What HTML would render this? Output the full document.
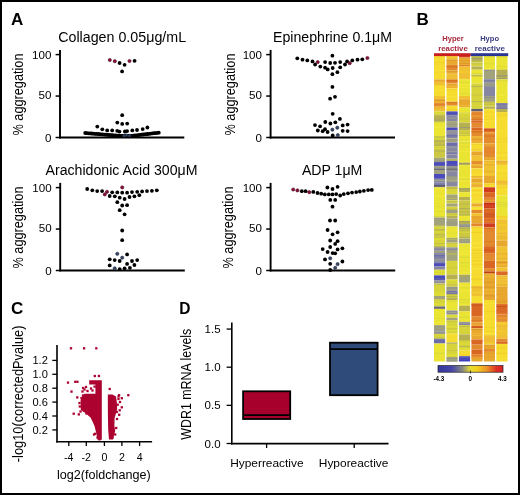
<!DOCTYPE html><html><head><meta charset="utf-8"><style>html,body{margin:0;padding:0;background:#fff}svg{display:block;filter:blur(0.35px)}</style></head><body><svg width="520" height="495" viewBox="0 0 520 495" font-family="Liberation Sans, sans-serif"><rect x="0" y="0" width="520" height="495" fill="#fff"/>
<line x1="60.0" y1="49.900000000000006" x2="60.0" y2="138.4" stroke="#000" stroke-width="1.9"/>
<line x1="59.1" y1="137.5" x2="184.3" y2="137.5" stroke="#000" stroke-width="1.8"/>
<line x1="55.6" y1="137.5" x2="60.0" y2="137.5" stroke="#000" stroke-width="1.5"/>
<text x="51.4" y="141.5" font-size="11.6" text-anchor="end" fill="#000">0</text>
<line x1="55.6" y1="96.05000000000001" x2="60.0" y2="96.05000000000001" stroke="#000" stroke-width="1.5"/>
<text x="51.4" y="98.65" font-size="11.6" text-anchor="end" fill="#000">50</text>
<line x1="55.6" y1="54.60000000000001" x2="60.0" y2="54.60000000000001" stroke="#000" stroke-width="1.5"/>
<text x="51.4" y="58.60000000000001" font-size="11.6" text-anchor="end" fill="#000">100</text>
<text x="58.2" y="42.0" font-size="14" textLength="127.9" lengthAdjust="spacingAndGlyphs" fill="#000">Collagen 0.05μg/mL</text>
<text x="23.2" y="94.5" font-size="14" text-anchor="middle" textLength="82" lengthAdjust="spacingAndGlyphs" transform="rotate(-90 23.2 94.5)" fill="#000">% aggregation</text>
<line x1="270.6" y1="49.900000000000006" x2="270.6" y2="138.4" stroke="#000" stroke-width="1.9"/>
<line x1="269.70000000000005" y1="137.5" x2="395" y2="137.5" stroke="#000" stroke-width="1.8"/>
<line x1="266.20000000000005" y1="137.5" x2="270.6" y2="137.5" stroke="#000" stroke-width="1.5"/>
<text x="262.0" y="141.5" font-size="11.6" text-anchor="end" fill="#000">0</text>
<line x1="266.20000000000005" y1="96.05000000000001" x2="270.6" y2="96.05000000000001" stroke="#000" stroke-width="1.5"/>
<text x="262.0" y="98.65" font-size="11.6" text-anchor="end" fill="#000">50</text>
<line x1="266.20000000000005" y1="54.60000000000001" x2="270.6" y2="54.60000000000001" stroke="#000" stroke-width="1.5"/>
<text x="262.0" y="58.60000000000001" font-size="11.6" text-anchor="end" fill="#000">100</text>
<text x="273" y="42.0" font-size="14" textLength="119" lengthAdjust="spacingAndGlyphs" fill="#000">Epinephrine 0.1μM</text>
<text x="234.9" y="94.5" font-size="14" text-anchor="middle" textLength="82" lengthAdjust="spacingAndGlyphs" transform="rotate(-90 234.9 94.5)" fill="#000">% aggregation</text>
<line x1="60.2" y1="182.9" x2="60.2" y2="271.4" stroke="#000" stroke-width="1.9"/>
<line x1="59.300000000000004" y1="270.5" x2="184.8" y2="270.5" stroke="#000" stroke-width="1.8"/>
<line x1="55.800000000000004" y1="270.5" x2="60.2" y2="270.5" stroke="#000" stroke-width="1.5"/>
<text x="51.6" y="274.5" font-size="11.6" text-anchor="end" fill="#000">0</text>
<line x1="55.800000000000004" y1="229.05" x2="60.2" y2="229.05" stroke="#000" stroke-width="1.5"/>
<text x="51.6" y="231.65" font-size="11.6" text-anchor="end" fill="#000">50</text>
<line x1="55.800000000000004" y1="187.60000000000002" x2="60.2" y2="187.60000000000002" stroke="#000" stroke-width="1.5"/>
<text x="51.6" y="191.60000000000002" font-size="11.6" text-anchor="end" fill="#000">100</text>
<text x="45.5" y="175.0" font-size="14" textLength="152.0" lengthAdjust="spacingAndGlyphs" fill="#000">Arachidonic Acid 300μM</text>
<text x="23.2" y="227.5" font-size="14" text-anchor="middle" textLength="82" lengthAdjust="spacingAndGlyphs" transform="rotate(-90 23.2 227.5)" fill="#000">% aggregation</text>
<line x1="270.6" y1="182.9" x2="270.6" y2="271.4" stroke="#000" stroke-width="1.9"/>
<line x1="269.70000000000005" y1="270.5" x2="395.2" y2="270.5" stroke="#000" stroke-width="1.8"/>
<line x1="266.20000000000005" y1="270.5" x2="270.6" y2="270.5" stroke="#000" stroke-width="1.5"/>
<text x="262.0" y="274.5" font-size="11.6" text-anchor="end" fill="#000">0</text>
<line x1="266.20000000000005" y1="229.05" x2="270.6" y2="229.05" stroke="#000" stroke-width="1.5"/>
<text x="262.0" y="231.65" font-size="11.6" text-anchor="end" fill="#000">50</text>
<line x1="266.20000000000005" y1="187.60000000000002" x2="270.6" y2="187.60000000000002" stroke="#000" stroke-width="1.5"/>
<text x="262.0" y="191.60000000000002" font-size="11.6" text-anchor="end" fill="#000">100</text>
<text x="301.9" y="175.0" font-size="14" textLength="60.5" lengthAdjust="spacingAndGlyphs" fill="#000">ADP 1μM</text>
<text x="233.4" y="227.5" font-size="14" text-anchor="middle" textLength="82" lengthAdjust="spacingAndGlyphs" transform="rotate(-90 233.4 227.5)" fill="#000">% aggregation</text>
<circle cx="109.8" cy="60.0" r="1.60" fill="#8c1040" stroke="#4a0820" stroke-width="0.6"/>
<circle cx="114.8" cy="61.2" r="1.60" fill="#8c1040" stroke="#4a0820" stroke-width="0.6"/>
<circle cx="119.6" cy="63.0" r="1.9" fill="#000"/>
<circle cx="124.6" cy="64.8" r="1.9" fill="#000"/>
<circle cx="129.5" cy="61.0" r="1.60" fill="#8c1040" stroke="#4a0820" stroke-width="0.6"/>
<circle cx="134.6" cy="60.8" r="1.9" fill="#000"/>
<circle cx="122.1" cy="71.4" r="1.9" fill="#000"/>
<circle cx="122.2" cy="115.2" r="1.9" fill="#000"/>
<circle cx="117.3" cy="122.6" r="1.9" fill="#000"/>
<circle cx="122.2" cy="123.9" r="1.9" fill="#000"/>
<circle cx="127.2" cy="123.6" r="1.9" fill="#000"/>
<circle cx="97.3" cy="126.6" r="1.9" fill="#000"/>
<circle cx="147.4" cy="127.5" r="1.9" fill="#000"/>
<circle cx="102.3" cy="129.3" r="1.9" fill="#000"/>
<circle cx="107.2" cy="130.4" r="1.9" fill="#000"/>
<circle cx="112.2" cy="130.4" r="1.9" fill="#000"/>
<circle cx="117.2" cy="130.8" r="1.9" fill="#000"/>
<circle cx="119.4" cy="131.6" r="1.9" fill="#000"/>
<circle cx="124.9" cy="131.5" r="1.9" fill="#000"/>
<circle cx="127.1" cy="131.1" r="1.9" fill="#000"/>
<circle cx="132.3" cy="130.4" r="1.9" fill="#000"/>
<circle cx="137.0" cy="130.0" r="1.9" fill="#000"/>
<circle cx="142.7" cy="129.1" r="1.9" fill="#000"/>
<circle cx="85.2" cy="133.0" r="1.9" fill="#000"/>
<circle cx="86.8" cy="133.1" r="1.9" fill="#000"/>
<circle cx="88.4" cy="133.3" r="1.9" fill="#000"/>
<circle cx="90.0" cy="133.4" r="1.9" fill="#000"/>
<circle cx="91.6" cy="133.5" r="1.9" fill="#000"/>
<circle cx="93.2" cy="133.7" r="1.9" fill="#000"/>
<circle cx="94.8" cy="133.8" r="1.9" fill="#000"/>
<circle cx="96.4" cy="133.9" r="1.9" fill="#000"/>
<circle cx="98.0" cy="134.0" r="1.9" fill="#000"/>
<circle cx="99.6" cy="134.2" r="1.9" fill="#000"/>
<circle cx="101.2" cy="134.3" r="1.9" fill="#000"/>
<circle cx="102.8" cy="134.4" r="1.9" fill="#000"/>
<circle cx="104.4" cy="134.6" r="1.9" fill="#000"/>
<circle cx="106.0" cy="134.7" r="1.9" fill="#000"/>
<circle cx="107.6" cy="134.8" r="1.9" fill="#000"/>
<circle cx="109.2" cy="135.0" r="1.9" fill="#000"/>
<circle cx="110.8" cy="135.1" r="1.9" fill="#000"/>
<circle cx="112.4" cy="135.2" r="1.9" fill="#000"/>
<circle cx="114.0" cy="135.3" r="1.9" fill="#000"/>
<circle cx="115.6" cy="135.5" r="1.9" fill="#000"/>
<circle cx="117.2" cy="135.6" r="1.9" fill="#000"/>
<circle cx="118.8" cy="135.7" r="1.9" fill="#000"/>
<circle cx="120.4" cy="135.9" r="1.9" fill="#000"/>
<circle cx="122.0" cy="136.0" r="1.9" fill="#000"/>
<circle cx="123.6" cy="136.0" r="1.9" fill="#000"/>
<circle cx="125.2" cy="136.0" r="1.9" fill="#000"/>
<circle cx="126.8" cy="136.0" r="1.9" fill="#000"/>
<circle cx="128.4" cy="136.0" r="1.9" fill="#000"/>
<circle cx="130.0" cy="136.0" r="1.9" fill="#000"/>
<circle cx="131.6" cy="135.8" r="1.9" fill="#000"/>
<circle cx="133.2" cy="135.6" r="1.9" fill="#000"/>
<circle cx="134.8" cy="135.4" r="1.9" fill="#000"/>
<circle cx="136.4" cy="135.3" r="1.9" fill="#000"/>
<circle cx="138.0" cy="135.1" r="1.9" fill="#000"/>
<circle cx="139.6" cy="134.9" r="1.9" fill="#000"/>
<circle cx="141.2" cy="134.7" r="1.9" fill="#000"/>
<circle cx="142.8" cy="134.5" r="1.9" fill="#000"/>
<circle cx="144.4" cy="134.3" r="1.9" fill="#000"/>
<circle cx="146.0" cy="134.2" r="1.9" fill="#000"/>
<circle cx="147.6" cy="134.0" r="1.9" fill="#000"/>
<circle cx="149.2" cy="133.8" r="1.9" fill="#000"/>
<circle cx="150.8" cy="133.6" r="1.9" fill="#000"/>
<circle cx="152.4" cy="133.4" r="1.9" fill="#000"/>
<circle cx="154.0" cy="133.2" r="1.9" fill="#000"/>
<circle cx="155.6" cy="133.1" r="1.9" fill="#000"/>
<circle cx="157.2" cy="132.9" r="1.9" fill="#000"/>
<circle cx="158.8" cy="132.7" r="1.9" fill="#000"/>
<circle cx="126.5" cy="135.3" r="1.40" fill="#3a4a68" stroke="#1a2238" stroke-width="0.6"/>
<circle cx="129.5" cy="135.6" r="1.40" fill="#3a4a68" stroke="#1a2238" stroke-width="0.6"/>
<circle cx="124.0" cy="135.8" r="1.40" fill="#3a4a68" stroke="#1a2238" stroke-width="0.6"/>
<circle cx="332.4" cy="55.7" r="1.9" fill="#000"/>
<circle cx="297.3" cy="58.3" r="1.9" fill="#000"/>
<circle cx="302.5" cy="59.7" r="1.9" fill="#000"/>
<circle cx="307.3" cy="60.4" r="1.9" fill="#000"/>
<circle cx="312.5" cy="61.4" r="1.9" fill="#000"/>
<circle cx="317.7" cy="62.1" r="1.60" fill="#8c1040" stroke="#4a0820" stroke-width="0.6"/>
<circle cx="315.1" cy="64.5" r="1.9" fill="#000"/>
<circle cx="320.3" cy="66.6" r="1.9" fill="#000"/>
<circle cx="325.1" cy="62.1" r="1.9" fill="#000"/>
<circle cx="330.2" cy="63.0" r="1.9" fill="#000"/>
<circle cx="335.0" cy="62.8" r="1.9" fill="#000"/>
<circle cx="340.2" cy="62.1" r="1.9" fill="#000"/>
<circle cx="347.1" cy="61.4" r="1.9" fill="#000"/>
<circle cx="349.7" cy="63.2" r="1.60" fill="#8c1040" stroke="#4a0820" stroke-width="0.6"/>
<circle cx="345.0" cy="64.5" r="1.9" fill="#000"/>
<circle cx="352.3" cy="60.4" r="1.9" fill="#000"/>
<circle cx="357.5" cy="59.7" r="1.9" fill="#000"/>
<circle cx="362.3" cy="59.3" r="1.9" fill="#000"/>
<circle cx="367.4" cy="58.0" r="1.60" fill="#8c1040" stroke="#4a0820" stroke-width="0.6"/>
<circle cx="325.1" cy="67.7" r="1.9" fill="#000"/>
<circle cx="327.7" cy="69.4" r="1.9" fill="#000"/>
<circle cx="332.7" cy="68.0" r="1.9" fill="#000"/>
<circle cx="340.2" cy="67.3" r="1.9" fill="#000"/>
<circle cx="332.4" cy="74.2" r="1.9" fill="#000"/>
<circle cx="337.4" cy="72.2" r="1.9" fill="#000"/>
<circle cx="332.4" cy="86.9" r="1.9" fill="#000"/>
<circle cx="330.1" cy="98.7" r="1.9" fill="#000"/>
<circle cx="335.0" cy="96.8" r="1.9" fill="#000"/>
<circle cx="332.7" cy="113.8" r="1.9" fill="#000"/>
<circle cx="339.9" cy="118.9" r="1.9" fill="#000"/>
<circle cx="325.3" cy="122.0" r="1.9" fill="#000"/>
<circle cx="330.4" cy="123.5" r="1.9" fill="#000"/>
<circle cx="335.3" cy="122.3" r="1.9" fill="#000"/>
<circle cx="315.0" cy="125.1" r="1.9" fill="#000"/>
<circle cx="320.1" cy="126.3" r="1.9" fill="#000"/>
<circle cx="342.7" cy="125.4" r="1.9" fill="#000"/>
<circle cx="347.6" cy="124.6" r="1.9" fill="#000"/>
<circle cx="325.0" cy="129.2" r="1.9" fill="#000"/>
<circle cx="332.4" cy="129.7" r="1.60" fill="#3a4a68" stroke="#1a2238" stroke-width="0.6"/>
<circle cx="337.3" cy="127.7" r="1.60" fill="#3a4a68" stroke="#1a2238" stroke-width="0.6"/>
<circle cx="317.8" cy="130.5" r="1.9" fill="#000"/>
<circle cx="322.7" cy="131.2" r="1.9" fill="#000"/>
<circle cx="327.6" cy="132.0" r="1.9" fill="#000"/>
<circle cx="342.7" cy="130.8" r="1.9" fill="#000"/>
<circle cx="347.6" cy="131.1" r="1.9" fill="#000"/>
<circle cx="332.7" cy="135.4" r="1.9" fill="#000"/>
<circle cx="337.8" cy="135.1" r="1.60" fill="#3a4a68" stroke="#1a2238" stroke-width="0.6"/>
<circle cx="87.2" cy="189.0" r="1.9" fill="#000"/>
<circle cx="92.3" cy="190.3" r="1.9" fill="#000"/>
<circle cx="97.2" cy="191.1" r="1.9" fill="#000"/>
<circle cx="102.1" cy="191.1" r="1.9" fill="#000"/>
<circle cx="107.0" cy="191.8" r="1.60" fill="#8c1040" stroke="#4a0820" stroke-width="0.6"/>
<circle cx="104.8" cy="194.4" r="1.60" fill="#8c1040" stroke="#4a0820" stroke-width="0.6"/>
<circle cx="112.2" cy="192.3" r="1.9" fill="#000"/>
<circle cx="117.3" cy="192.4" r="1.9" fill="#000"/>
<circle cx="122.2" cy="192.7" r="1.9" fill="#000"/>
<circle cx="122.2" cy="187.4" r="1.60" fill="#8c1040" stroke="#4a0820" stroke-width="0.6"/>
<circle cx="127.1" cy="192.7" r="1.9" fill="#000"/>
<circle cx="132.0" cy="192.1" r="1.9" fill="#000"/>
<circle cx="137.2" cy="191.8" r="1.9" fill="#000"/>
<circle cx="142.1" cy="191.4" r="1.9" fill="#000"/>
<circle cx="147.0" cy="191.1" r="1.9" fill="#000"/>
<circle cx="151.9" cy="190.8" r="1.9" fill="#000"/>
<circle cx="156.8" cy="190.3" r="1.9" fill="#000"/>
<circle cx="109.7" cy="196.0" r="1.9" fill="#000"/>
<circle cx="114.8" cy="196.3" r="1.9" fill="#000"/>
<circle cx="119.7" cy="197.7" r="1.9" fill="#000"/>
<circle cx="124.6" cy="199.0" r="1.9" fill="#000"/>
<circle cx="129.5" cy="197.0" r="1.9" fill="#000"/>
<circle cx="134.4" cy="196.3" r="1.9" fill="#000"/>
<circle cx="139.3" cy="195.2" r="1.9" fill="#000"/>
<circle cx="117.3" cy="202.2" r="1.9" fill="#000"/>
<circle cx="122.2" cy="205.5" r="1.9" fill="#000"/>
<circle cx="127.1" cy="205.2" r="1.9" fill="#000"/>
<circle cx="119.7" cy="210.2" r="1.9" fill="#000"/>
<circle cx="124.6" cy="214.3" r="1.9" fill="#000"/>
<circle cx="122.2" cy="230.5" r="1.9" fill="#000"/>
<circle cx="122.2" cy="240.2" r="1.9" fill="#000"/>
<circle cx="117.3" cy="253.8" r="1.60" fill="#3a4a68" stroke="#1a2238" stroke-width="0.6"/>
<circle cx="122.2" cy="257.7" r="1.60" fill="#3a4a68" stroke="#1a2238" stroke-width="0.6"/>
<circle cx="127.1" cy="254.4" r="1.9" fill="#000"/>
<circle cx="109.7" cy="259.3" r="1.9" fill="#000"/>
<circle cx="114.7" cy="260.1" r="1.9" fill="#000"/>
<circle cx="119.7" cy="261.0" r="1.9" fill="#000"/>
<circle cx="132.0" cy="261.0" r="1.9" fill="#000"/>
<circle cx="137.2" cy="260.1" r="1.9" fill="#000"/>
<circle cx="109.7" cy="265.4" r="1.9" fill="#000"/>
<circle cx="127.1" cy="263.9" r="1.9" fill="#000"/>
<circle cx="134.4" cy="265.0" r="1.9" fill="#000"/>
<circle cx="114.7" cy="268.3" r="1.60" fill="#3a4a68" stroke="#1a2238" stroke-width="0.6"/>
<circle cx="119.7" cy="269.1" r="1.9" fill="#000"/>
<circle cx="124.6" cy="268.3" r="1.9" fill="#000"/>
<circle cx="129.9" cy="267.8" r="1.9" fill="#000"/>
<circle cx="293.2" cy="189.5" r="1.60" fill="#8c1040" stroke="#4a0820" stroke-width="0.6"/>
<circle cx="297.4" cy="190.4" r="1.60" fill="#8c1040" stroke="#4a0820" stroke-width="0.6"/>
<circle cx="301.8" cy="191.2" r="1.9" fill="#000"/>
<circle cx="305.6" cy="191.2" r="1.9" fill="#000"/>
<circle cx="309.3" cy="192.2" r="1.60" fill="#8c1040" stroke="#4a0820" stroke-width="0.6"/>
<circle cx="313.3" cy="191.9" r="1.9" fill="#000"/>
<circle cx="317.5" cy="193.0" r="1.9" fill="#000"/>
<circle cx="321.2" cy="193.7" r="1.9" fill="#000"/>
<circle cx="324.8" cy="194.4" r="1.9" fill="#000"/>
<circle cx="328.8" cy="194.4" r="1.9" fill="#000"/>
<circle cx="332.5" cy="194.4" r="1.9" fill="#000"/>
<circle cx="336.2" cy="194.1" r="1.9" fill="#000"/>
<circle cx="340.2" cy="195.5" r="1.9" fill="#000"/>
<circle cx="343.8" cy="194.1" r="1.9" fill="#000"/>
<circle cx="348.0" cy="193.3" r="1.9" fill="#000"/>
<circle cx="352.0" cy="192.6" r="1.9" fill="#000"/>
<circle cx="356.2" cy="192.1" r="1.9" fill="#000"/>
<circle cx="359.9" cy="191.5" r="1.9" fill="#000"/>
<circle cx="363.9" cy="190.8" r="1.9" fill="#000"/>
<circle cx="368.1" cy="190.1" r="1.9" fill="#000"/>
<circle cx="371.8" cy="189.9" r="1.9" fill="#000"/>
<circle cx="327.4" cy="187.5" r="1.9" fill="#000"/>
<circle cx="332.5" cy="189.0" r="1.9" fill="#000"/>
<circle cx="337.6" cy="186.8" r="1.9" fill="#000"/>
<circle cx="330.3" cy="199.9" r="1.9" fill="#000"/>
<circle cx="335.2" cy="199.9" r="1.9" fill="#000"/>
<circle cx="332.5" cy="206.7" r="1.9" fill="#000"/>
<circle cx="330.0" cy="220.5" r="1.9" fill="#000"/>
<circle cx="335.2" cy="220.5" r="1.9" fill="#000"/>
<circle cx="327.6" cy="230.0" r="1.9" fill="#000"/>
<circle cx="337.6" cy="232.3" r="1.9" fill="#000"/>
<circle cx="332.6" cy="234.3" r="1.9" fill="#000"/>
<circle cx="330.2" cy="240.5" r="1.9" fill="#000"/>
<circle cx="337.6" cy="241.2" r="1.9" fill="#000"/>
<circle cx="335.2" cy="243.9" r="1.9" fill="#000"/>
<circle cx="330.2" cy="247.0" r="1.9" fill="#000"/>
<circle cx="322.7" cy="249.1" r="1.9" fill="#000"/>
<circle cx="337.6" cy="249.4" r="1.9" fill="#000"/>
<circle cx="342.4" cy="248.3" r="1.9" fill="#000"/>
<circle cx="327.6" cy="252.0" r="1.9" fill="#000"/>
<circle cx="332.6" cy="253.1" r="1.9" fill="#000"/>
<circle cx="335.2" cy="253.3" r="1.9" fill="#000"/>
<circle cx="325.0" cy="259.4" r="1.9" fill="#000"/>
<circle cx="330.2" cy="258.3" r="1.60" fill="#3a4a68" stroke="#1a2238" stroke-width="0.6"/>
<circle cx="330.2" cy="263.8" r="1.9" fill="#000"/>
<circle cx="337.6" cy="264.1" r="1.60" fill="#3a4a68" stroke="#1a2238" stroke-width="0.6"/>
<circle cx="342.4" cy="261.5" r="1.9" fill="#000"/>
<circle cx="335.2" cy="267.8" r="1.60" fill="#3a4a68" stroke="#1a2238" stroke-width="0.6"/>
<circle cx="330.2" cy="270.0" r="1.9" fill="#000"/>
<rect x="1" y="1" width="518" height="493" fill="none" stroke="#000" stroke-width="2"/>
<text x="11" y="25" font-size="17" font-weight="bold" fill="#000">A</text>
<text x="416.5" y="25" font-size="17" font-weight="bold" fill="#000">B</text>
<text x="11" y="314.2" font-size="17" font-weight="bold" fill="#000">C</text>
<text x="179.3" y="314.2" font-size="17" font-weight="bold" textLength="11.2" lengthAdjust="spacingAndGlyphs" fill="#000">D</text>
<rect x="434.00" y="56.00" width="11.10" height="23.40" fill="#f6dc2e"/>
<rect x="434.00" y="56.54" width="11.10" height="1.50" fill="#f4d634"/>
<rect x="434.00" y="62.04" width="11.10" height="1.00" fill="#f2d02c"/>
<rect x="434.00" y="64.04" width="11.10" height="0.80" fill="#f4d634"/>
<rect x="434.00" y="69.74" width="11.10" height="0.80" fill="#f8e43a"/>
<rect x="434.00" y="71.34" width="11.10" height="1.50" fill="#f4d634"/>
<rect x="434.00" y="79.40" width="11.10" height="2.50" fill="#e8a82e"/>
<rect x="434.00" y="81.90" width="11.10" height="3.20" fill="#f0c232"/>
<rect x="434.00" y="85.10" width="11.10" height="10.90" fill="#f6dc2e"/>
<rect x="434.00" y="85.14" width="11.10" height="0.80" fill="#f2d02c"/>
<rect x="434.00" y="89.54" width="11.10" height="1.00" fill="#f8e43a"/>
<rect x="434.00" y="96.00" width="11.10" height="3.20" fill="#f0c232"/>
<rect x="434.00" y="99.20" width="11.10" height="4.10" fill="#e8a82e"/>
<rect x="434.00" y="99.60" width="11.10" height="1.20" fill="#e09a2a"/>
<rect x="434.00" y="101.60" width="11.10" height="1.00" fill="#f0b836"/>
<rect x="434.00" y="103.30" width="11.10" height="3.20" fill="#e48a2e"/>
<rect x="434.00" y="103.37" width="11.10" height="1.50" fill="#e48030"/>
<rect x="434.00" y="105.87" width="11.10" height="0.63" fill="#e48030"/>
<rect x="434.00" y="106.50" width="11.10" height="4.90" fill="#f0c232"/>
<rect x="434.00" y="107.00" width="11.10" height="1.50" fill="#e8b430"/>
<rect x="434.00" y="109.50" width="11.10" height="0.80" fill="#f0ba3a"/>
<rect x="434.00" y="111.40" width="11.10" height="3.20" fill="#d6d43a"/>
<rect x="434.00" y="112.60" width="11.10" height="0.80" fill="#e2e034"/>
<rect x="434.00" y="114.60" width="11.10" height="7.30" fill="#b6b052"/>
<rect x="434.00" y="114.65" width="11.10" height="1.00" fill="#cac644"/>
<rect x="434.00" y="119.65" width="11.10" height="0.80" fill="#a4a264"/>
<rect x="434.00" y="121.90" width="11.10" height="14.10" fill="#eae432"/>
<rect x="434.00" y="121.92" width="11.10" height="1.20" fill="#dedc3a"/>
<rect x="434.00" y="126.62" width="11.10" height="1.50" fill="#f2e83a"/>
<rect x="434.00" y="131.62" width="11.10" height="1.00" fill="#eee236"/>
<rect x="434.00" y="136.00" width="11.10" height="4.00" fill="#d6d43a"/>
<rect x="434.00" y="136.51" width="11.10" height="0.80" fill="#bcb852"/>
<rect x="434.00" y="140.00" width="11.10" height="17.80" fill="#ccc844"/>
<rect x="434.00" y="140.31" width="11.10" height="1.50" fill="#b2ae56"/>
<rect x="434.00" y="142.61" width="11.10" height="1.00" fill="#bcb84e"/>
<rect x="434.00" y="144.41" width="11.10" height="1.20" fill="#b2ae56"/>
<rect x="434.00" y="146.41" width="11.10" height="0.80" fill="#dedc36"/>
<rect x="434.00" y="148.21" width="11.10" height="0.80" fill="#dedc36"/>
<rect x="434.00" y="150.51" width="11.10" height="1.00" fill="#b2ae56"/>
<rect x="434.00" y="157.80" width="11.10" height="4.10" fill="#a2a27c"/>
<rect x="434.00" y="160.89" width="11.10" height="0.80" fill="#9a9a88"/>
<rect x="434.00" y="161.90" width="11.10" height="4.00" fill="#4a4abc"/>
<rect x="434.00" y="162.28" width="11.10" height="0.80" fill="#6060ac"/>
<rect x="434.00" y="165.90" width="11.10" height="2.40" fill="#a2a27c"/>
<rect x="434.00" y="166.85" width="11.10" height="1.20" fill="#9a9a88"/>
<rect x="434.00" y="168.30" width="11.10" height="1.70" fill="#6c6a72"/>
<rect x="434.00" y="170.00" width="11.10" height="4.00" fill="#a2a27c"/>
<rect x="434.00" y="174.00" width="11.10" height="4.80" fill="#4a4abc"/>
<rect x="434.00" y="178.80" width="11.10" height="3.70" fill="#8686a2"/>
<rect x="434.00" y="179.86" width="11.10" height="1.20" fill="#a4a486"/>
<rect x="434.00" y="182.50" width="11.10" height="2.40" fill="#6c6caa"/>
<rect x="434.00" y="183.03" width="11.10" height="0.80" fill="#8a8a9c"/>
<rect x="434.00" y="184.90" width="11.10" height="2.40" fill="#6c6a72"/>
<rect x="434.00" y="185.27" width="11.10" height="0.80" fill="#5c5a70"/>
<rect x="434.00" y="187.30" width="11.10" height="28.70" fill="#eae432"/>
<rect x="434.00" y="187.90" width="11.10" height="1.50" fill="#f2e83a"/>
<rect x="434.00" y="190.90" width="11.10" height="1.20" fill="#eee236"/>
<rect x="434.00" y="195.60" width="11.10" height="1.50" fill="#f2e83a"/>
<rect x="434.00" y="203.60" width="11.10" height="1.00" fill="#eee236"/>
<rect x="434.00" y="206.10" width="11.10" height="1.00" fill="#dedc3a"/>
<rect x="434.00" y="210.90" width="11.10" height="1.00" fill="#dedc3a"/>
<rect x="434.00" y="216.00" width="11.10" height="1.60" fill="#d6d43a"/>
<rect x="434.00" y="217.60" width="11.10" height="8.90" fill="#a2a27c"/>
<rect x="434.00" y="217.98" width="11.10" height="0.80" fill="#9a9a88"/>
<rect x="434.00" y="225.08" width="11.10" height="1.42" fill="#bcb85a"/>
<rect x="434.00" y="226.50" width="11.10" height="20.20" fill="#d6d43a"/>
<rect x="434.00" y="229.04" width="11.10" height="1.50" fill="#bcb852"/>
<rect x="434.00" y="233.84" width="11.10" height="1.50" fill="#bcb852"/>
<rect x="434.00" y="236.14" width="11.10" height="1.50" fill="#c8c448"/>
<rect x="434.00" y="238.64" width="11.10" height="1.00" fill="#e2e034"/>
<rect x="434.00" y="243.14" width="11.10" height="0.80" fill="#bcb852"/>
<rect x="434.00" y="245.94" width="11.10" height="0.76" fill="#c8c448"/>
<rect x="434.00" y="246.70" width="11.10" height="4.10" fill="#8686a2"/>
<rect x="434.00" y="247.15" width="11.10" height="1.20" fill="#a4a486"/>
<rect x="434.00" y="250.80" width="11.10" height="2.40" fill="#a2a27c"/>
<rect x="434.00" y="253.20" width="11.10" height="2.80" fill="#6c6caa"/>
<rect x="434.00" y="253.84" width="11.10" height="1.20" fill="#8a8a9c"/>
<rect x="434.00" y="256.00" width="11.10" height="6.50" fill="#8686a2"/>
<rect x="434.00" y="256.42" width="11.10" height="0.80" fill="#7272aa"/>
<rect x="434.00" y="259.22" width="11.10" height="1.20" fill="#9a9a9c"/>
<rect x="434.00" y="261.42" width="11.10" height="0.80" fill="#9a9a9c"/>
<rect x="434.00" y="262.50" width="11.10" height="4.00" fill="#4a4abc"/>
<rect x="434.00" y="263.14" width="11.10" height="1.00" fill="#6060ac"/>
<rect x="434.00" y="266.50" width="11.10" height="3.20" fill="#8686a2"/>
<rect x="434.00" y="269.70" width="11.10" height="5.70" fill="#d6d43a"/>
<rect x="434.00" y="270.61" width="11.10" height="1.50" fill="#e2e034"/>
<rect x="434.00" y="273.11" width="11.10" height="1.20" fill="#e2e034"/>
<rect x="434.00" y="275.40" width="11.10" height="4.90" fill="#4a4abc"/>
<rect x="434.00" y="278.27" width="11.10" height="1.50" fill="#6060ac"/>
<rect x="434.00" y="280.30" width="11.10" height="3.20" fill="#8686a2"/>
<rect x="434.00" y="280.90" width="11.10" height="1.50" fill="#9a9a9c"/>
<rect x="434.00" y="283.50" width="11.10" height="12.50" fill="#d6d43a"/>
<rect x="434.00" y="284.15" width="11.10" height="0.80" fill="#bcb852"/>
<rect x="434.00" y="292.25" width="11.10" height="1.20" fill="#e2e034"/>
<rect x="434.00" y="294.45" width="11.10" height="1.20" fill="#e2e034"/>
<rect x="434.00" y="296.00" width="11.10" height="3.20" fill="#a2a27c"/>
<rect x="434.00" y="299.20" width="11.10" height="7.30" fill="#d6d43a"/>
<rect x="434.00" y="299.36" width="11.10" height="0.80" fill="#c8c448"/>
<rect x="434.00" y="303.46" width="11.10" height="1.20" fill="#e2e034"/>
<rect x="434.00" y="306.50" width="11.10" height="2.40" fill="#6c6a72"/>
<rect x="434.00" y="308.90" width="11.10" height="16.20" fill="#eae432"/>
<rect x="434.00" y="317.93" width="11.10" height="1.00" fill="#dedc3a"/>
<rect x="434.00" y="321.93" width="11.10" height="0.80" fill="#f2e83a"/>
<rect x="434.00" y="323.73" width="11.10" height="0.80" fill="#f2e83a"/>
<rect x="434.00" y="325.10" width="11.10" height="6.50" fill="#a2a27c"/>
<rect x="434.00" y="326.10" width="11.10" height="1.50" fill="#9a9a88"/>
<rect x="434.00" y="328.60" width="11.10" height="1.00" fill="#9a9a88"/>
<rect x="434.00" y="330.40" width="11.10" height="0.80" fill="#9a9a88"/>
<rect x="434.00" y="331.60" width="11.10" height="2.40" fill="#8686a2"/>
<rect x="434.00" y="332.69" width="11.10" height="1.20" fill="#a4a486"/>
<rect x="434.00" y="334.00" width="11.10" height="4.80" fill="#d6d43a"/>
<rect x="434.00" y="337.60" width="11.10" height="0.80" fill="#bcb852"/>
<rect x="434.00" y="338.80" width="11.10" height="4.70" fill="#6c6caa"/>
<rect x="434.00" y="338.98" width="11.10" height="1.00" fill="#7c7ca6"/>
<rect x="434.00" y="343.50" width="11.10" height="18.00" fill="#eae432"/>
<rect x="434.00" y="349.50" width="11.10" height="1.50" fill="#eee236"/>
<rect x="434.00" y="352.50" width="11.10" height="1.50" fill="#dedc3a"/>
<rect x="434.00" y="356.60" width="11.10" height="1.50" fill="#eee236"/>
<rect x="446.48" y="56.00" width="11.10" height="3.20" fill="#f0c232"/>
<rect x="446.48" y="56.11" width="11.10" height="0.80" fill="#f4d030"/>
<rect x="446.48" y="59.20" width="11.10" height="5.70" fill="#e8a82e"/>
<rect x="446.48" y="59.88" width="11.10" height="1.00" fill="#e09a2a"/>
<rect x="446.48" y="64.90" width="11.10" height="5.60" fill="#e48a2e"/>
<rect x="446.48" y="65.88" width="11.10" height="1.50" fill="#d87424"/>
<rect x="446.48" y="70.50" width="11.10" height="3.30" fill="#e8a82e"/>
<rect x="446.48" y="70.75" width="11.10" height="1.00" fill="#e09a2a"/>
<rect x="446.48" y="73.80" width="11.10" height="5.60" fill="#f0c232"/>
<rect x="446.48" y="75.96" width="11.10" height="1.00" fill="#f0ba3a"/>
<rect x="446.48" y="78.46" width="11.10" height="0.94" fill="#e8b430"/>
<rect x="446.48" y="79.40" width="11.10" height="4.10" fill="#e48a2e"/>
<rect x="446.48" y="80.04" width="11.10" height="1.50" fill="#d87424"/>
<rect x="446.48" y="83.50" width="11.10" height="4.80" fill="#e8a82e"/>
<rect x="446.48" y="85.94" width="11.10" height="1.50" fill="#f0b836"/>
<rect x="446.48" y="88.30" width="11.10" height="13.40" fill="#f6dc2e"/>
<rect x="446.48" y="89.08" width="11.10" height="0.80" fill="#f2d02c"/>
<rect x="446.48" y="96.18" width="11.10" height="0.80" fill="#f8e43a"/>
<rect x="446.48" y="101.70" width="11.10" height="4.00" fill="#e48a2e"/>
<rect x="446.48" y="102.35" width="11.10" height="0.80" fill="#d87424"/>
<rect x="446.48" y="105.70" width="11.10" height="5.70" fill="#f6dc2e"/>
<rect x="446.48" y="109.04" width="11.10" height="1.20" fill="#f2d02c"/>
<rect x="446.48" y="111.40" width="11.10" height="4.00" fill="#4a4abc"/>
<rect x="446.48" y="112.20" width="11.10" height="1.20" fill="#5656b4"/>
<rect x="446.48" y="114.20" width="11.10" height="1.00" fill="#6060ac"/>
<rect x="446.48" y="115.40" width="11.10" height="5.70" fill="#8686a2"/>
<rect x="446.48" y="117.46" width="11.10" height="1.20" fill="#9a9a9c"/>
<rect x="446.48" y="121.10" width="11.10" height="6.40" fill="#a2a27c"/>
<rect x="446.48" y="124.16" width="11.10" height="0.80" fill="#9a9a88"/>
<rect x="446.48" y="127.50" width="11.10" height="2.50" fill="#4a4abc"/>
<rect x="446.48" y="130.00" width="11.10" height="8.40" fill="#8686a2"/>
<rect x="446.48" y="130.06" width="11.10" height="1.50" fill="#9a9a9c"/>
<rect x="446.48" y="132.36" width="11.10" height="1.20" fill="#9a9a9c"/>
<rect x="446.48" y="135.06" width="11.10" height="1.50" fill="#7272aa"/>
<rect x="446.48" y="138.40" width="11.10" height="4.10" fill="#a2a27c"/>
<rect x="446.48" y="139.12" width="11.10" height="1.50" fill="#9a9a88"/>
<rect x="446.48" y="142.50" width="11.10" height="4.00" fill="#6c6caa"/>
<rect x="446.48" y="145.78" width="11.10" height="0.72" fill="#8a8a9c"/>
<rect x="446.48" y="146.50" width="11.10" height="8.10" fill="#8686a2"/>
<rect x="446.48" y="147.26" width="11.10" height="1.00" fill="#9a9a9c"/>
<rect x="446.48" y="150.86" width="11.10" height="1.20" fill="#9a9a9c"/>
<rect x="446.48" y="152.86" width="11.10" height="0.80" fill="#7272aa"/>
<rect x="446.48" y="154.60" width="11.10" height="4.00" fill="#8686a2"/>
<rect x="446.48" y="158.60" width="11.10" height="2.40" fill="#a2a27c"/>
<rect x="446.48" y="159.18" width="11.10" height="1.20" fill="#bcb85a"/>
<rect x="446.48" y="161.00" width="11.10" height="5.00" fill="#4a4abc"/>
<rect x="446.48" y="164.69" width="11.10" height="1.00" fill="#6060ac"/>
<rect x="446.48" y="166.00" width="11.10" height="2.30" fill="#8686a2"/>
<rect x="446.48" y="166.47" width="11.10" height="1.00" fill="#a4a486"/>
<rect x="446.48" y="168.30" width="11.10" height="1.70" fill="#6c6a72"/>
<rect x="446.48" y="168.65" width="11.10" height="1.00" fill="#7a7868"/>
<rect x="446.48" y="170.00" width="11.10" height="6.00" fill="#8686a2"/>
<rect x="446.48" y="170.55" width="11.10" height="1.20" fill="#9a9a9c"/>
<rect x="446.48" y="176.00" width="11.10" height="4.90" fill="#a2a27c"/>
<rect x="446.48" y="176.36" width="11.10" height="0.80" fill="#8e8e96"/>
<rect x="446.48" y="177.96" width="11.10" height="1.20" fill="#9a9a88"/>
<rect x="446.48" y="180.90" width="11.10" height="5.60" fill="#8686a2"/>
<rect x="446.48" y="181.24" width="11.10" height="1.00" fill="#a4a486"/>
<rect x="446.48" y="186.50" width="11.10" height="2.50" fill="#b6b052"/>
<rect x="446.48" y="187.35" width="11.10" height="1.20" fill="#cac644"/>
<rect x="446.48" y="189.00" width="11.10" height="5.60" fill="#d6d43a"/>
<rect x="446.48" y="191.88" width="11.10" height="0.80" fill="#e2e034"/>
<rect x="446.48" y="194.60" width="11.10" height="5.70" fill="#a2a27c"/>
<rect x="446.48" y="197.76" width="11.10" height="1.00" fill="#bcb85a"/>
<rect x="446.48" y="200.30" width="11.10" height="3.20" fill="#d6d43a"/>
<rect x="446.48" y="201.27" width="11.10" height="1.00" fill="#bcb852"/>
<rect x="446.48" y="203.50" width="11.10" height="3.20" fill="#a2a27c"/>
<rect x="446.48" y="206.70" width="11.10" height="3.30" fill="#d6d43a"/>
<rect x="446.48" y="208.78" width="11.10" height="1.20" fill="#bcb852"/>
<rect x="446.48" y="210.00" width="11.10" height="3.20" fill="#a2a27c"/>
<rect x="446.48" y="211.08" width="11.10" height="0.80" fill="#9a9a88"/>
<rect x="446.48" y="213.20" width="11.10" height="2.80" fill="#d6d43a"/>
<rect x="446.48" y="213.32" width="11.10" height="1.50" fill="#c8c448"/>
<rect x="446.48" y="216.00" width="11.10" height="2.40" fill="#b6b052"/>
<rect x="446.48" y="218.40" width="11.10" height="8.10" fill="#a2a27c"/>
<rect x="446.48" y="222.02" width="11.10" height="1.50" fill="#9a9a88"/>
<rect x="446.48" y="224.32" width="11.10" height="0.80" fill="#9a9a88"/>
<rect x="446.48" y="226.50" width="11.10" height="11.30" fill="#eae432"/>
<rect x="446.48" y="231.02" width="11.10" height="0.80" fill="#eee236"/>
<rect x="446.48" y="232.62" width="11.10" height="0.80" fill="#dedc3a"/>
<rect x="446.48" y="237.80" width="11.10" height="4.90" fill="#a2a27c"/>
<rect x="446.48" y="238.62" width="11.10" height="1.20" fill="#bcb85a"/>
<rect x="446.48" y="242.70" width="11.10" height="4.80" fill="#d6d43a"/>
<rect x="446.48" y="243.27" width="11.10" height="0.80" fill="#c8c448"/>
<rect x="446.48" y="247.50" width="11.10" height="2.50" fill="#8686a2"/>
<rect x="446.48" y="247.88" width="11.10" height="1.00" fill="#9a9a9c"/>
<rect x="446.48" y="250.00" width="11.10" height="10.90" fill="#a2a27c"/>
<rect x="446.48" y="253.22" width="11.10" height="1.50" fill="#bcb85a"/>
<rect x="446.48" y="260.90" width="11.10" height="13.70" fill="#d6d43a"/>
<rect x="446.48" y="267.46" width="11.10" height="0.80" fill="#c8c448"/>
<rect x="446.48" y="274.60" width="11.10" height="4.80" fill="#b6b052"/>
<rect x="446.48" y="279.40" width="11.10" height="7.30" fill="#d6d43a"/>
<rect x="446.48" y="280.13" width="11.10" height="1.00" fill="#e2e034"/>
<rect x="446.48" y="284.33" width="11.10" height="1.20" fill="#c8c448"/>
<rect x="446.48" y="286.70" width="11.10" height="4.10" fill="#a2a27c"/>
<rect x="446.48" y="287.39" width="11.10" height="1.00" fill="#8e8e96"/>
<rect x="446.48" y="289.39" width="11.10" height="0.80" fill="#9a9a88"/>
<rect x="446.48" y="290.80" width="11.10" height="3.20" fill="#6c6caa"/>
<rect x="446.48" y="291.87" width="11.10" height="1.50" fill="#8a8a9c"/>
<rect x="446.48" y="294.00" width="11.10" height="4.00" fill="#d6d43a"/>
<rect x="446.48" y="294.02" width="11.10" height="1.00" fill="#bcb852"/>
<rect x="446.48" y="295.82" width="11.10" height="1.50" fill="#bcb852"/>
<rect x="446.48" y="298.00" width="11.10" height="2.00" fill="#b6b052"/>
<rect x="446.48" y="300.00" width="11.10" height="10.60" fill="#eae432"/>
<rect x="446.48" y="300.38" width="11.10" height="1.50" fill="#dedc3a"/>
<rect x="446.48" y="303.88" width="11.10" height="0.80" fill="#eee236"/>
<rect x="446.48" y="310.60" width="11.10" height="4.00" fill="#8686a2"/>
<rect x="446.48" y="311.64" width="11.10" height="1.50" fill="#a4a486"/>
<rect x="446.48" y="314.60" width="11.10" height="3.20" fill="#d6d43a"/>
<rect x="446.48" y="315.68" width="11.10" height="1.00" fill="#e2e034"/>
<rect x="446.48" y="317.80" width="11.10" height="2.50" fill="#a2a27c"/>
<rect x="446.48" y="320.30" width="11.10" height="13.40" fill="#d6d43a"/>
<rect x="446.48" y="320.61" width="11.10" height="1.00" fill="#c8c448"/>
<rect x="446.48" y="326.31" width="11.10" height="1.20" fill="#e2e034"/>
<rect x="446.48" y="328.31" width="11.10" height="0.80" fill="#c8c448"/>
<rect x="446.48" y="330.11" width="11.10" height="1.00" fill="#e2e034"/>
<rect x="446.48" y="333.70" width="11.10" height="8.70" fill="#f6dc2e"/>
<rect x="446.48" y="333.82" width="11.10" height="0.80" fill="#f8e43a"/>
<rect x="446.48" y="342.40" width="11.10" height="1.50" fill="#b6b052"/>
<rect x="446.48" y="343.90" width="11.10" height="13.10" fill="#d6d43a"/>
<rect x="446.48" y="350.18" width="11.10" height="0.80" fill="#c8c448"/>
<rect x="446.48" y="354.48" width="11.10" height="1.50" fill="#e2e034"/>
<rect x="446.48" y="357.00" width="11.10" height="4.50" fill="#a2a27c"/>
<rect x="446.48" y="357.99" width="11.10" height="1.00" fill="#9a9a88"/>
<rect x="446.48" y="360.49" width="11.10" height="1.00" fill="#9a9a88"/>
<rect x="458.96" y="56.00" width="11.10" height="1.60" fill="#d03c20"/>
<rect x="458.96" y="57.60" width="11.10" height="7.30" fill="#e8a82e"/>
<rect x="458.96" y="60.08" width="11.10" height="0.80" fill="#e09a2a"/>
<rect x="458.96" y="62.88" width="11.10" height="1.20" fill="#e09a2a"/>
<rect x="458.96" y="64.90" width="11.10" height="1.60" fill="#e48a2e"/>
<rect x="458.96" y="65.46" width="11.10" height="0.80" fill="#e48030"/>
<rect x="458.96" y="66.50" width="11.10" height="12.90" fill="#f0c232"/>
<rect x="458.96" y="71.59" width="11.10" height="1.00" fill="#f4d030"/>
<rect x="458.96" y="74.09" width="11.10" height="1.20" fill="#f0ba3a"/>
<rect x="458.96" y="76.79" width="11.10" height="1.00" fill="#f0ba3a"/>
<rect x="458.96" y="78.59" width="11.10" height="0.81" fill="#f4d030"/>
<rect x="458.96" y="79.40" width="11.10" height="16.60" fill="#eae432"/>
<rect x="458.96" y="82.07" width="11.10" height="1.00" fill="#dedc3a"/>
<rect x="458.96" y="83.87" width="11.10" height="1.00" fill="#f2e83a"/>
<rect x="458.96" y="86.87" width="11.10" height="1.00" fill="#f2e83a"/>
<rect x="458.96" y="93.47" width="11.10" height="1.00" fill="#dedc3a"/>
<rect x="458.96" y="95.27" width="11.10" height="0.73" fill="#eee236"/>
<rect x="458.96" y="96.00" width="11.10" height="3.20" fill="#f0c232"/>
<rect x="458.96" y="99.20" width="11.10" height="8.10" fill="#e8a82e"/>
<rect x="458.96" y="104.81" width="11.10" height="1.50" fill="#f0b836"/>
<rect x="458.96" y="107.30" width="11.10" height="4.90" fill="#eae432"/>
<rect x="458.96" y="112.20" width="11.10" height="10.50" fill="#d6d43a"/>
<rect x="458.96" y="113.26" width="11.10" height="0.80" fill="#e2e034"/>
<rect x="458.96" y="118.56" width="11.10" height="0.80" fill="#c8c448"/>
<rect x="458.96" y="122.70" width="11.10" height="7.30" fill="#b6b052"/>
<rect x="458.96" y="127.10" width="11.10" height="1.00" fill="#9c9a72"/>
<rect x="458.96" y="130.00" width="11.10" height="6.00" fill="#d6d43a"/>
<rect x="458.96" y="130.68" width="11.10" height="0.80" fill="#c8c448"/>
<rect x="458.96" y="132.28" width="11.10" height="1.50" fill="#c8c448"/>
<rect x="458.96" y="135.28" width="11.10" height="0.72" fill="#c8c448"/>
<rect x="458.96" y="136.00" width="11.10" height="5.70" fill="#eae432"/>
<rect x="458.96" y="137.07" width="11.10" height="1.50" fill="#eee236"/>
<rect x="458.96" y="139.57" width="11.10" height="0.80" fill="#dedc3a"/>
<rect x="458.96" y="141.70" width="11.10" height="21.00" fill="#eae432"/>
<rect x="458.96" y="142.07" width="11.10" height="1.50" fill="#dedc3a"/>
<rect x="458.96" y="144.57" width="11.10" height="1.00" fill="#eee236"/>
<rect x="458.96" y="146.37" width="11.10" height="1.00" fill="#dedc3a"/>
<rect x="458.96" y="149.37" width="11.10" height="0.80" fill="#eee236"/>
<rect x="458.96" y="151.17" width="11.10" height="1.00" fill="#f2e83a"/>
<rect x="458.96" y="161.07" width="11.10" height="1.50" fill="#f2e83a"/>
<rect x="458.96" y="162.70" width="11.10" height="2.40" fill="#b6b052"/>
<rect x="458.96" y="162.84" width="11.10" height="1.00" fill="#9c9a72"/>
<rect x="458.96" y="165.10" width="11.10" height="10.90" fill="#eae432"/>
<rect x="458.96" y="172.40" width="11.10" height="1.00" fill="#eee236"/>
<rect x="458.96" y="176.00" width="11.10" height="12.10" fill="#eae432"/>
<rect x="458.96" y="177.10" width="11.10" height="0.80" fill="#f2e83a"/>
<rect x="458.96" y="178.70" width="11.10" height="1.20" fill="#dedc3a"/>
<rect x="458.96" y="180.70" width="11.10" height="1.00" fill="#f2e83a"/>
<rect x="458.96" y="182.70" width="11.10" height="1.00" fill="#eee236"/>
<rect x="458.96" y="188.10" width="11.10" height="4.10" fill="#b6b052"/>
<rect x="458.96" y="188.10" width="11.10" height="1.50" fill="#a4a264"/>
<rect x="458.96" y="192.20" width="11.10" height="4.80" fill="#eae432"/>
<rect x="458.96" y="197.00" width="11.10" height="3.30" fill="#b6b052"/>
<rect x="458.96" y="200.30" width="11.10" height="15.70" fill="#ccc844"/>
<rect x="458.96" y="203.61" width="11.10" height="1.20" fill="#bcb84e"/>
<rect x="458.96" y="208.11" width="11.10" height="1.20" fill="#b2ae56"/>
<rect x="458.96" y="211.31" width="11.10" height="1.50" fill="#bcb84e"/>
<rect x="458.96" y="214.31" width="11.10" height="0.80" fill="#b2ae56"/>
<rect x="458.96" y="216.00" width="11.10" height="4.90" fill="#eae432"/>
<rect x="458.96" y="216.75" width="11.10" height="0.80" fill="#f2e83a"/>
<rect x="458.96" y="220.90" width="11.10" height="3.20" fill="#b6b052"/>
<rect x="458.96" y="221.01" width="11.10" height="1.00" fill="#a4a264"/>
<rect x="458.96" y="224.10" width="11.10" height="3.20" fill="#8686a2"/>
<rect x="458.96" y="224.17" width="11.10" height="1.50" fill="#a4a486"/>
<rect x="458.96" y="226.67" width="11.10" height="0.63" fill="#a4a486"/>
<rect x="458.96" y="227.30" width="11.10" height="11.30" fill="#ccc844"/>
<rect x="458.96" y="227.47" width="11.10" height="1.50" fill="#b2ae56"/>
<rect x="458.96" y="229.77" width="11.10" height="1.00" fill="#bcb84e"/>
<rect x="458.96" y="231.77" width="11.10" height="0.80" fill="#dedc36"/>
<rect x="458.96" y="236.87" width="11.10" height="1.00" fill="#b2ae56"/>
<rect x="458.96" y="238.60" width="11.10" height="4.90" fill="#a2a27c"/>
<rect x="458.96" y="241.40" width="11.10" height="1.20" fill="#9a9a88"/>
<rect x="458.96" y="243.50" width="11.10" height="12.50" fill="#eae432"/>
<rect x="458.96" y="250.55" width="11.10" height="1.50" fill="#f2e83a"/>
<rect x="458.96" y="253.05" width="11.10" height="1.50" fill="#f2e83a"/>
<rect x="458.96" y="256.00" width="11.10" height="18.60" fill="#eae432"/>
<rect x="458.96" y="256.58" width="11.10" height="1.50" fill="#dedc3a"/>
<rect x="458.96" y="259.58" width="11.10" height="1.50" fill="#eee236"/>
<rect x="458.96" y="262.08" width="11.10" height="1.50" fill="#dedc3a"/>
<rect x="458.96" y="265.58" width="11.10" height="0.80" fill="#dedc3a"/>
<rect x="458.96" y="270.08" width="11.10" height="1.20" fill="#eee236"/>
<rect x="458.96" y="272.28" width="11.10" height="1.20" fill="#f2e83a"/>
<rect x="458.96" y="274.60" width="11.10" height="2.40" fill="#b6b052"/>
<rect x="458.96" y="275.47" width="11.10" height="1.20" fill="#a4a264"/>
<rect x="458.96" y="277.00" width="11.10" height="5.70" fill="#a2a27c"/>
<rect x="458.96" y="282.70" width="11.10" height="23.00" fill="#eae432"/>
<rect x="458.96" y="283.09" width="11.10" height="0.80" fill="#eee236"/>
<rect x="458.96" y="284.89" width="11.10" height="1.50" fill="#f2e83a"/>
<rect x="458.96" y="287.39" width="11.10" height="0.80" fill="#dedc3a"/>
<rect x="458.96" y="290.19" width="11.10" height="1.50" fill="#f2e83a"/>
<rect x="458.96" y="298.89" width="11.10" height="1.50" fill="#dedc3a"/>
<rect x="458.96" y="301.89" width="11.10" height="1.00" fill="#dedc3a"/>
<rect x="458.96" y="304.39" width="11.10" height="1.00" fill="#f2e83a"/>
<rect x="458.96" y="305.70" width="11.10" height="5.70" fill="#b6b052"/>
<rect x="458.96" y="311.40" width="11.10" height="10.50" fill="#eae432"/>
<rect x="458.96" y="312.20" width="11.10" height="1.20" fill="#eee236"/>
<rect x="458.96" y="316.50" width="11.10" height="1.50" fill="#dedc3a"/>
<rect x="458.96" y="320.00" width="11.10" height="1.20" fill="#eee236"/>
<rect x="458.96" y="321.90" width="11.10" height="3.20" fill="#8686a2"/>
<rect x="458.96" y="322.17" width="11.10" height="1.50" fill="#9a9a9c"/>
<rect x="458.96" y="325.10" width="11.10" height="9.30" fill="#d6d43a"/>
<rect x="458.96" y="325.90" width="11.10" height="1.00" fill="#bcb852"/>
<rect x="458.96" y="334.40" width="11.10" height="6.60" fill="#b6b052"/>
<rect x="458.96" y="340.04" width="11.10" height="0.96" fill="#cac644"/>
<rect x="458.96" y="341.00" width="11.10" height="9.50" fill="#d6d43a"/>
<rect x="458.96" y="343.56" width="11.10" height="0.80" fill="#e2e034"/>
<rect x="458.96" y="345.86" width="11.10" height="1.20" fill="#bcb852"/>
<rect x="458.96" y="348.06" width="11.10" height="1.50" fill="#e2e034"/>
<rect x="458.96" y="350.50" width="11.10" height="5.80" fill="#f6dc2e"/>
<rect x="458.96" y="354.64" width="11.10" height="1.20" fill="#f2d02c"/>
<rect x="458.96" y="356.30" width="11.10" height="5.20" fill="#4a4abc"/>
<rect x="458.96" y="356.76" width="11.10" height="1.50" fill="#5656b4"/>
<rect x="458.96" y="359.76" width="11.10" height="1.20" fill="#3e3ec4"/>
<rect x="471.44" y="56.00" width="11.10" height="6.50" fill="#b6b052"/>
<rect x="471.44" y="56.18" width="11.10" height="1.00" fill="#cac644"/>
<rect x="471.44" y="58.18" width="11.10" height="1.00" fill="#9c9a72"/>
<rect x="471.44" y="61.18" width="11.10" height="0.80" fill="#cac644"/>
<rect x="471.44" y="62.50" width="11.10" height="4.00" fill="#d6d43a"/>
<rect x="471.44" y="63.25" width="11.10" height="1.20" fill="#c8c448"/>
<rect x="471.44" y="66.50" width="11.10" height="3.20" fill="#b6b052"/>
<rect x="471.44" y="69.70" width="11.10" height="4.90" fill="#eae432"/>
<rect x="471.44" y="72.89" width="11.10" height="1.20" fill="#dedc3a"/>
<rect x="471.44" y="74.60" width="11.10" height="2.40" fill="#d6d43a"/>
<rect x="471.44" y="74.88" width="11.10" height="1.00" fill="#bcb852"/>
<rect x="471.44" y="77.00" width="11.10" height="6.50" fill="#eae432"/>
<rect x="471.44" y="83.50" width="11.10" height="25.40" fill="#d6d43a"/>
<rect x="471.44" y="85.85" width="11.10" height="1.20" fill="#bcb852"/>
<rect x="471.44" y="94.45" width="11.10" height="1.00" fill="#c8c448"/>
<rect x="471.44" y="101.15" width="11.10" height="1.00" fill="#bcb852"/>
<rect x="471.44" y="108.90" width="11.10" height="2.50" fill="#6c6a72"/>
<rect x="471.44" y="109.20" width="11.10" height="1.50" fill="#5c5a70"/>
<rect x="471.44" y="111.40" width="11.10" height="8.90" fill="#e48a2e"/>
<rect x="471.44" y="113.39" width="11.10" height="1.20" fill="#e48030"/>
<rect x="471.44" y="115.39" width="11.10" height="1.50" fill="#ea9c34"/>
<rect x="471.44" y="118.89" width="11.10" height="1.00" fill="#d87424"/>
<rect x="471.44" y="120.30" width="11.10" height="2.40" fill="#da6624"/>
<rect x="471.44" y="121.26" width="11.10" height="1.20" fill="#dc6a28"/>
<rect x="471.44" y="122.70" width="11.10" height="4.80" fill="#e48a2e"/>
<rect x="471.44" y="127.50" width="11.10" height="2.50" fill="#da6624"/>
<rect x="471.44" y="130.00" width="11.10" height="6.00" fill="#e48a2e"/>
<rect x="471.44" y="131.06" width="11.10" height="1.50" fill="#d87424"/>
<rect x="471.44" y="136.00" width="11.10" height="7.30" fill="#e8a82e"/>
<rect x="471.44" y="136.33" width="11.10" height="1.50" fill="#f0b836"/>
<rect x="471.44" y="138.63" width="11.10" height="1.50" fill="#eaa030"/>
<rect x="471.44" y="141.63" width="11.10" height="0.80" fill="#f0b836"/>
<rect x="471.44" y="143.30" width="11.10" height="8.10" fill="#f6dc2e"/>
<rect x="471.44" y="144.10" width="11.10" height="0.80" fill="#f2d02c"/>
<rect x="471.44" y="148.90" width="11.10" height="1.50" fill="#f2d02c"/>
<rect x="471.44" y="151.40" width="11.10" height="4.00" fill="#e8a82e"/>
<rect x="471.44" y="154.57" width="11.10" height="0.83" fill="#e09a2a"/>
<rect x="471.44" y="155.40" width="11.10" height="5.60" fill="#f0c232"/>
<rect x="471.44" y="161.00" width="11.10" height="3.30" fill="#e48a2e"/>
<rect x="471.44" y="161.65" width="11.10" height="0.80" fill="#ea9c34"/>
<rect x="471.44" y="164.30" width="11.10" height="4.00" fill="#e8a82e"/>
<rect x="471.44" y="164.38" width="11.10" height="1.50" fill="#f0b836"/>
<rect x="471.44" y="166.68" width="11.10" height="1.20" fill="#eaa030"/>
<rect x="471.44" y="168.30" width="11.10" height="7.70" fill="#f6dc2e"/>
<rect x="471.44" y="169.27" width="11.10" height="1.50" fill="#f4d634"/>
<rect x="471.44" y="171.57" width="11.10" height="1.50" fill="#f4d634"/>
<rect x="471.44" y="176.00" width="11.10" height="2.40" fill="#f0c232"/>
<rect x="471.44" y="176.01" width="11.10" height="1.00" fill="#e8b430"/>
<rect x="471.44" y="178.40" width="11.10" height="4.10" fill="#e8a82e"/>
<rect x="471.44" y="181.71" width="11.10" height="0.79" fill="#e09a2a"/>
<rect x="471.44" y="182.50" width="11.10" height="1.60" fill="#f0c232"/>
<rect x="471.44" y="184.10" width="11.10" height="3.20" fill="#e8a82e"/>
<rect x="471.44" y="184.49" width="11.10" height="0.80" fill="#f0b836"/>
<rect x="471.44" y="186.29" width="11.10" height="1.00" fill="#f0b836"/>
<rect x="471.44" y="187.30" width="11.10" height="16.20" fill="#f6dc2e"/>
<rect x="471.44" y="188.12" width="11.10" height="1.00" fill="#f8e43a"/>
<rect x="471.44" y="190.12" width="11.10" height="1.20" fill="#f2d02c"/>
<rect x="471.44" y="192.12" width="11.10" height="0.80" fill="#f8e43a"/>
<rect x="471.44" y="194.92" width="11.10" height="0.80" fill="#f4d634"/>
<rect x="471.44" y="200.62" width="11.10" height="1.20" fill="#f8e43a"/>
<rect x="471.44" y="203.50" width="11.10" height="3.20" fill="#e8a82e"/>
<rect x="471.44" y="206.70" width="11.10" height="3.30" fill="#f6dc2e"/>
<rect x="471.44" y="207.76" width="11.10" height="1.20" fill="#f8e43a"/>
<rect x="471.44" y="210.00" width="11.10" height="3.20" fill="#e48a2e"/>
<rect x="471.44" y="213.20" width="11.10" height="2.80" fill="#f0c232"/>
<rect x="471.44" y="216.00" width="11.10" height="7.30" fill="#e8a82e"/>
<rect x="471.44" y="216.61" width="11.10" height="0.80" fill="#eaa030"/>
<rect x="471.44" y="223.30" width="11.10" height="3.20" fill="#e48a2e"/>
<rect x="471.44" y="224.30" width="11.10" height="1.00" fill="#e48030"/>
<rect x="471.44" y="226.50" width="11.10" height="59.50" fill="#f6dc2e"/>
<rect x="471.44" y="227.12" width="11.10" height="0.80" fill="#f2d02c"/>
<rect x="471.44" y="231.92" width="11.10" height="1.20" fill="#f2d02c"/>
<rect x="471.44" y="242.12" width="11.10" height="1.50" fill="#f8e43a"/>
<rect x="471.44" y="246.92" width="11.10" height="1.20" fill="#f8e43a"/>
<rect x="471.44" y="249.62" width="11.10" height="1.20" fill="#f2d02c"/>
<rect x="471.44" y="252.82" width="11.10" height="1.00" fill="#f2d02c"/>
<rect x="471.44" y="254.82" width="11.10" height="1.50" fill="#f4d634"/>
<rect x="471.44" y="257.32" width="11.10" height="0.80" fill="#f2d02c"/>
<rect x="471.44" y="260.12" width="11.10" height="1.00" fill="#f2d02c"/>
<rect x="471.44" y="263.72" width="11.10" height="1.20" fill="#f2d02c"/>
<rect x="471.44" y="267.92" width="11.10" height="1.20" fill="#f8e43a"/>
<rect x="471.44" y="273.92" width="11.10" height="1.50" fill="#f4d634"/>
<rect x="471.44" y="278.62" width="11.10" height="1.50" fill="#f2d02c"/>
<rect x="471.44" y="283.82" width="11.10" height="1.00" fill="#f8e43a"/>
<rect x="471.44" y="286.00" width="11.10" height="10.00" fill="#f0c232"/>
<rect x="471.44" y="286.83" width="11.10" height="1.50" fill="#e8b430"/>
<rect x="471.44" y="291.83" width="11.10" height="1.20" fill="#f4d030"/>
<rect x="471.44" y="296.00" width="11.10" height="7.30" fill="#f6dc2e"/>
<rect x="471.44" y="302.24" width="11.10" height="1.06" fill="#f4d634"/>
<rect x="471.44" y="303.30" width="11.10" height="12.90" fill="#da6624"/>
<rect x="471.44" y="304.43" width="11.10" height="1.20" fill="#cc5420"/>
<rect x="471.44" y="316.20" width="11.10" height="6.50" fill="#e48a2e"/>
<rect x="471.44" y="319.94" width="11.10" height="0.80" fill="#d87424"/>
<rect x="471.44" y="322.70" width="11.10" height="3.20" fill="#e8a82e"/>
<rect x="471.44" y="323.40" width="11.10" height="1.20" fill="#eaa030"/>
<rect x="471.44" y="325.90" width="11.10" height="2.40" fill="#da6624"/>
<rect x="471.44" y="326.71" width="11.10" height="1.00" fill="#cc5420"/>
<rect x="471.44" y="328.30" width="11.10" height="11.20" fill="#e8a82e"/>
<rect x="471.44" y="329.01" width="11.10" height="1.20" fill="#e09a2a"/>
<rect x="471.44" y="333.31" width="11.10" height="0.80" fill="#f0b836"/>
<rect x="471.44" y="334.91" width="11.10" height="1.20" fill="#f0b836"/>
<rect x="471.44" y="339.50" width="11.10" height="5.10" fill="#da6624"/>
<rect x="471.44" y="340.06" width="11.10" height="1.20" fill="#dc6a28"/>
<rect x="471.44" y="344.60" width="11.10" height="5.10" fill="#e48a2e"/>
<rect x="471.44" y="349.70" width="11.10" height="4.40" fill="#da6624"/>
<rect x="471.44" y="354.10" width="11.10" height="3.70" fill="#e48a2e"/>
<rect x="471.44" y="355.05" width="11.10" height="1.00" fill="#e48030"/>
<rect x="471.44" y="357.05" width="11.10" height="0.75" fill="#ea9c34"/>
<rect x="471.44" y="357.80" width="11.10" height="3.70" fill="#e8a82e"/>
<rect x="471.44" y="357.92" width="11.10" height="0.80" fill="#eaa030"/>
<rect x="483.92" y="56.00" width="11.10" height="13.70" fill="#eae432"/>
<rect x="483.92" y="56.52" width="11.10" height="1.00" fill="#dedc3a"/>
<rect x="483.92" y="58.32" width="11.10" height="0.80" fill="#eee236"/>
<rect x="483.92" y="59.92" width="11.10" height="0.80" fill="#eee236"/>
<rect x="483.92" y="63.32" width="11.10" height="0.80" fill="#dedc3a"/>
<rect x="483.92" y="67.82" width="11.10" height="1.50" fill="#f2e83a"/>
<rect x="483.92" y="69.70" width="11.10" height="9.70" fill="#a2a27c"/>
<rect x="483.92" y="69.90" width="11.10" height="0.80" fill="#8e8e96"/>
<rect x="483.92" y="79.40" width="11.10" height="3.30" fill="#6c6caa"/>
<rect x="483.92" y="80.28" width="11.10" height="1.50" fill="#8a8a9c"/>
<rect x="483.92" y="82.70" width="11.10" height="4.00" fill="#a2a27c"/>
<rect x="483.92" y="83.19" width="11.10" height="1.50" fill="#9a9a88"/>
<rect x="483.92" y="85.49" width="11.10" height="1.21" fill="#8e8e96"/>
<rect x="483.92" y="86.70" width="11.10" height="9.30" fill="#8686a2"/>
<rect x="483.92" y="96.00" width="11.10" height="5.70" fill="#a2a27c"/>
<rect x="483.92" y="96.89" width="11.10" height="1.20" fill="#8e8e96"/>
<rect x="483.92" y="100.09" width="11.10" height="1.50" fill="#9a9a88"/>
<rect x="483.92" y="101.70" width="11.10" height="4.80" fill="#d6d43a"/>
<rect x="483.92" y="102.10" width="11.10" height="0.80" fill="#bcb852"/>
<rect x="483.92" y="103.70" width="11.10" height="1.00" fill="#bcb852"/>
<rect x="483.92" y="106.50" width="11.10" height="2.40" fill="#b6b052"/>
<rect x="483.92" y="108.90" width="11.10" height="19.40" fill="#f6dc2e"/>
<rect x="483.92" y="108.94" width="11.10" height="1.20" fill="#f8e43a"/>
<rect x="483.92" y="112.14" width="11.10" height="0.80" fill="#f4d634"/>
<rect x="483.92" y="116.04" width="11.10" height="1.00" fill="#f4d634"/>
<rect x="483.92" y="118.54" width="11.10" height="1.20" fill="#f4d634"/>
<rect x="483.92" y="120.54" width="11.10" height="1.20" fill="#f8e43a"/>
<rect x="483.92" y="128.30" width="11.10" height="4.10" fill="#da6624"/>
<rect x="483.92" y="129.08" width="11.10" height="1.20" fill="#cc5420"/>
<rect x="483.92" y="131.08" width="11.10" height="0.80" fill="#e27a2c"/>
<rect x="483.92" y="132.40" width="11.10" height="10.90" fill="#e48a2e"/>
<rect x="483.92" y="132.79" width="11.10" height="1.20" fill="#ea9c34"/>
<rect x="483.92" y="135.49" width="11.10" height="1.20" fill="#d87424"/>
<rect x="483.92" y="143.30" width="11.10" height="2.40" fill="#e8a82e"/>
<rect x="483.92" y="144.29" width="11.10" height="1.41" fill="#eaa030"/>
<rect x="483.92" y="145.70" width="11.10" height="11.30" fill="#e48a2e"/>
<rect x="483.92" y="145.91" width="11.10" height="0.80" fill="#ea9c34"/>
<rect x="483.92" y="151.01" width="11.10" height="1.50" fill="#e48030"/>
<rect x="483.92" y="157.00" width="11.10" height="3.30" fill="#e8a82e"/>
<rect x="483.92" y="159.17" width="11.10" height="0.80" fill="#eaa030"/>
<rect x="483.92" y="160.30" width="11.10" height="15.70" fill="#f0c232"/>
<rect x="483.92" y="161.31" width="11.10" height="0.80" fill="#e8b430"/>
<rect x="483.92" y="164.11" width="11.10" height="1.50" fill="#e8b430"/>
<rect x="483.92" y="170.61" width="11.10" height="1.50" fill="#e8b430"/>
<rect x="483.92" y="174.11" width="11.10" height="0.80" fill="#f4d030"/>
<rect x="483.92" y="176.00" width="11.10" height="7.30" fill="#e8a82e"/>
<rect x="483.92" y="183.30" width="11.10" height="4.00" fill="#f6dc2e"/>
<rect x="483.92" y="183.73" width="11.10" height="1.00" fill="#f2d02c"/>
<rect x="483.92" y="187.30" width="11.10" height="4.90" fill="#d03c20"/>
<rect x="483.92" y="192.20" width="11.10" height="5.60" fill="#da6624"/>
<rect x="483.92" y="192.65" width="11.10" height="1.00" fill="#dc6a28"/>
<rect x="483.92" y="197.80" width="11.10" height="4.90" fill="#e48a2e"/>
<rect x="483.92" y="198.26" width="11.10" height="0.80" fill="#e48030"/>
<rect x="483.92" y="199.86" width="11.10" height="1.20" fill="#ea9c34"/>
<rect x="483.92" y="202.70" width="11.10" height="5.60" fill="#d03c20"/>
<rect x="483.92" y="203.10" width="11.10" height="1.00" fill="#c43018"/>
<rect x="483.92" y="205.60" width="11.10" height="0.80" fill="#d85024"/>
<rect x="483.92" y="208.30" width="11.10" height="15.00" fill="#da6624"/>
<rect x="483.92" y="210.94" width="11.10" height="1.20" fill="#dc6a28"/>
<rect x="483.92" y="213.64" width="11.10" height="1.20" fill="#cc5420"/>
<rect x="483.92" y="215.64" width="11.10" height="1.00" fill="#cc5420"/>
<rect x="483.92" y="218.14" width="11.10" height="1.20" fill="#e27a2c"/>
<rect x="483.92" y="220.84" width="11.10" height="1.50" fill="#e27a2c"/>
<rect x="483.92" y="223.30" width="11.10" height="4.00" fill="#d03c20"/>
<rect x="483.92" y="227.30" width="11.10" height="19.40" fill="#e48a2e"/>
<rect x="483.92" y="227.94" width="11.10" height="1.20" fill="#d87424"/>
<rect x="483.92" y="230.64" width="11.10" height="1.00" fill="#e48030"/>
<rect x="483.92" y="241.44" width="11.10" height="0.80" fill="#d87424"/>
<rect x="483.92" y="245.74" width="11.10" height="0.80" fill="#d87424"/>
<rect x="483.92" y="246.70" width="11.10" height="6.50" fill="#da6624"/>
<rect x="483.92" y="247.88" width="11.10" height="0.80" fill="#dc6a28"/>
<rect x="483.92" y="249.68" width="11.10" height="0.80" fill="#cc5420"/>
<rect x="483.92" y="253.20" width="11.10" height="7.70" fill="#e48a2e"/>
<rect x="483.92" y="253.70" width="11.10" height="1.50" fill="#e48030"/>
<rect x="483.92" y="260.90" width="11.10" height="7.20" fill="#da6624"/>
<rect x="483.92" y="268.10" width="11.10" height="3.30" fill="#e48a2e"/>
<rect x="483.92" y="271.40" width="11.10" height="2.00" fill="#b83c14"/>
<rect x="483.92" y="272.55" width="11.10" height="0.80" fill="#c04418"/>
<rect x="483.92" y="273.40" width="11.10" height="26.60" fill="#e8a82e"/>
<rect x="483.92" y="274.55" width="11.10" height="0.80" fill="#f0b836"/>
<rect x="483.92" y="276.35" width="11.10" height="0.80" fill="#f0b836"/>
<rect x="483.92" y="281.65" width="11.10" height="1.20" fill="#e09a2a"/>
<rect x="483.92" y="286.65" width="11.10" height="1.20" fill="#e09a2a"/>
<rect x="483.92" y="289.35" width="11.10" height="1.20" fill="#f0b836"/>
<rect x="483.92" y="292.55" width="11.10" height="1.00" fill="#f0b836"/>
<rect x="483.92" y="295.05" width="11.10" height="1.50" fill="#e09a2a"/>
<rect x="483.92" y="300.00" width="11.10" height="35.10" fill="#f6dc2e"/>
<rect x="483.92" y="302.71" width="11.10" height="1.00" fill="#f8e43a"/>
<rect x="483.92" y="310.81" width="11.10" height="1.50" fill="#f2d02c"/>
<rect x="483.92" y="318.11" width="11.10" height="1.00" fill="#f4d634"/>
<rect x="483.92" y="326.91" width="11.10" height="0.80" fill="#f2d02c"/>
<rect x="483.92" y="331.01" width="11.10" height="0.80" fill="#f2d02c"/>
<rect x="483.92" y="332.81" width="11.10" height="1.20" fill="#f8e43a"/>
<rect x="483.92" y="335.10" width="11.10" height="9.50" fill="#f0c232"/>
<rect x="483.92" y="338.26" width="11.10" height="1.00" fill="#f0ba3a"/>
<rect x="483.92" y="340.26" width="11.10" height="1.50" fill="#f0ba3a"/>
<rect x="483.92" y="342.56" width="11.10" height="1.20" fill="#f4d030"/>
<rect x="483.92" y="344.60" width="11.10" height="4.40" fill="#e8a82e"/>
<rect x="483.92" y="345.47" width="11.10" height="0.80" fill="#e09a2a"/>
<rect x="483.92" y="347.27" width="11.10" height="0.80" fill="#eaa030"/>
<rect x="483.92" y="349.00" width="11.10" height="2.90" fill="#e48a2e"/>
<rect x="483.92" y="351.90" width="11.10" height="9.60" fill="#e8a82e"/>
<rect x="483.92" y="352.68" width="11.10" height="0.80" fill="#e09a2a"/>
<rect x="483.92" y="356.28" width="11.10" height="1.20" fill="#eaa030"/>
<rect x="496.40" y="56.00" width="11.10" height="13.70" fill="#eae432"/>
<rect x="496.40" y="56.56" width="11.10" height="1.00" fill="#dedc3a"/>
<rect x="496.40" y="61.86" width="11.10" height="0.80" fill="#f2e83a"/>
<rect x="496.40" y="66.16" width="11.10" height="0.80" fill="#dedc3a"/>
<rect x="496.40" y="68.96" width="11.10" height="0.74" fill="#f2e83a"/>
<rect x="496.40" y="69.70" width="11.10" height="9.70" fill="#b6b052"/>
<rect x="496.40" y="75.12" width="11.10" height="1.50" fill="#9c9a72"/>
<rect x="496.40" y="78.12" width="11.10" height="1.00" fill="#9c9a72"/>
<rect x="496.40" y="79.40" width="11.10" height="23.90" fill="#eae432"/>
<rect x="496.40" y="79.92" width="11.10" height="1.50" fill="#dedc3a"/>
<rect x="496.40" y="82.42" width="11.10" height="1.00" fill="#eee236"/>
<rect x="496.40" y="94.92" width="11.10" height="1.20" fill="#f2e83a"/>
<rect x="496.40" y="101.62" width="11.10" height="1.50" fill="#eee236"/>
<rect x="496.40" y="103.30" width="11.10" height="5.60" fill="#8686a2"/>
<rect x="496.40" y="103.37" width="11.10" height="1.20" fill="#7272aa"/>
<rect x="496.40" y="107.87" width="11.10" height="1.03" fill="#7272aa"/>
<rect x="496.40" y="108.90" width="11.10" height="3.30" fill="#b6b052"/>
<rect x="496.40" y="112.20" width="11.10" height="48.10" fill="#f6dc2e"/>
<rect x="496.40" y="112.43" width="11.10" height="0.80" fill="#f4d634"/>
<rect x="496.40" y="114.03" width="11.10" height="0.80" fill="#f2d02c"/>
<rect x="496.40" y="115.83" width="11.10" height="1.20" fill="#f4d634"/>
<rect x="496.40" y="130.73" width="11.10" height="1.00" fill="#f8e43a"/>
<rect x="496.40" y="138.53" width="11.10" height="0.80" fill="#f2d02c"/>
<rect x="496.40" y="141.33" width="11.10" height="1.20" fill="#f4d634"/>
<rect x="496.40" y="152.13" width="11.10" height="1.50" fill="#f4d634"/>
<rect x="496.40" y="155.13" width="11.10" height="0.80" fill="#f8e43a"/>
<rect x="496.40" y="157.93" width="11.10" height="1.00" fill="#f4d634"/>
<rect x="496.40" y="160.30" width="11.10" height="4.80" fill="#f0c232"/>
<rect x="496.40" y="161.13" width="11.10" height="1.50" fill="#e8b430"/>
<rect x="496.40" y="165.10" width="11.10" height="15.80" fill="#f6dc2e"/>
<rect x="496.40" y="169.80" width="11.10" height="1.20" fill="#f8e43a"/>
<rect x="496.40" y="173.00" width="11.10" height="0.80" fill="#f4d634"/>
<rect x="496.40" y="177.10" width="11.10" height="1.20" fill="#f4d634"/>
<rect x="496.40" y="179.80" width="11.10" height="1.00" fill="#f2d02c"/>
<rect x="496.40" y="180.90" width="11.10" height="4.80" fill="#f0c232"/>
<rect x="496.40" y="181.31" width="11.10" height="1.20" fill="#f0ba3a"/>
<rect x="496.40" y="184.51" width="11.10" height="1.00" fill="#f4d030"/>
<rect x="496.40" y="185.70" width="11.10" height="9.70" fill="#f6dc2e"/>
<rect x="496.40" y="186.80" width="11.10" height="0.80" fill="#f2d02c"/>
<rect x="496.40" y="195.40" width="11.10" height="20.60" fill="#eae432"/>
<rect x="496.40" y="202.13" width="11.10" height="0.80" fill="#dedc3a"/>
<rect x="496.40" y="203.73" width="11.10" height="1.50" fill="#dedc3a"/>
<rect x="496.40" y="206.03" width="11.10" height="0.80" fill="#dedc3a"/>
<rect x="496.40" y="211.83" width="11.10" height="1.00" fill="#eee236"/>
<rect x="496.40" y="213.83" width="11.10" height="1.50" fill="#eee236"/>
<rect x="496.40" y="216.00" width="11.10" height="3.20" fill="#f6dc2e"/>
<rect x="496.40" y="216.29" width="11.10" height="1.50" fill="#f2d02c"/>
<rect x="496.40" y="219.20" width="11.10" height="21.10" fill="#f0c232"/>
<rect x="496.40" y="224.45" width="11.10" height="1.20" fill="#f4d030"/>
<rect x="496.40" y="230.15" width="11.10" height="1.20" fill="#f4d030"/>
<rect x="496.40" y="232.85" width="11.10" height="1.50" fill="#f0ba3a"/>
<rect x="496.40" y="236.35" width="11.10" height="1.00" fill="#e8b430"/>
<rect x="496.40" y="238.35" width="11.10" height="0.80" fill="#e8b430"/>
<rect x="496.40" y="240.30" width="11.10" height="6.40" fill="#e8a82e"/>
<rect x="496.40" y="246.70" width="11.10" height="14.20" fill="#f0c232"/>
<rect x="496.40" y="253.06" width="11.10" height="1.50" fill="#e8b430"/>
<rect x="496.40" y="255.56" width="11.10" height="0.80" fill="#f0ba3a"/>
<rect x="496.40" y="257.86" width="11.10" height="1.50" fill="#e8b430"/>
<rect x="496.40" y="260.90" width="11.10" height="6.40" fill="#e8a82e"/>
<rect x="496.40" y="261.82" width="11.10" height="1.20" fill="#e09a2a"/>
<rect x="496.40" y="264.02" width="11.10" height="1.50" fill="#f0b836"/>
<rect x="496.40" y="267.30" width="11.10" height="4.10" fill="#f0c232"/>
<rect x="496.40" y="271.40" width="11.10" height="4.00" fill="#da6624"/>
<rect x="496.40" y="272.30" width="11.10" height="1.50" fill="#dc6a28"/>
<rect x="496.40" y="275.40" width="11.10" height="11.30" fill="#f0c232"/>
<rect x="496.40" y="276.05" width="11.10" height="0.80" fill="#f0ba3a"/>
<rect x="496.40" y="278.35" width="11.10" height="0.80" fill="#f0ba3a"/>
<rect x="496.40" y="280.65" width="11.10" height="1.50" fill="#f0ba3a"/>
<rect x="496.40" y="284.15" width="11.10" height="1.50" fill="#e8b430"/>
<rect x="496.40" y="286.70" width="11.10" height="17.40" fill="#e8a82e"/>
<rect x="496.40" y="286.82" width="11.10" height="0.80" fill="#eaa030"/>
<rect x="496.40" y="294.22" width="11.10" height="0.80" fill="#eaa030"/>
<rect x="496.40" y="299.22" width="11.10" height="1.20" fill="#eaa030"/>
<rect x="496.40" y="301.22" width="11.10" height="1.20" fill="#e09a2a"/>
<rect x="496.40" y="304.10" width="11.10" height="10.50" fill="#da6624"/>
<rect x="496.40" y="304.35" width="11.10" height="0.80" fill="#e27a2c"/>
<rect x="496.40" y="305.95" width="11.10" height="1.00" fill="#cc5420"/>
<rect x="496.40" y="310.05" width="11.10" height="1.20" fill="#dc6a28"/>
<rect x="496.40" y="312.75" width="11.10" height="1.20" fill="#e27a2c"/>
<rect x="496.40" y="314.60" width="11.10" height="7.30" fill="#e48a2e"/>
<rect x="496.40" y="315.44" width="11.10" height="0.80" fill="#e48030"/>
<rect x="496.40" y="317.74" width="11.10" height="1.20" fill="#ea9c34"/>
<rect x="496.40" y="321.90" width="11.10" height="16.90" fill="#f0c232"/>
<rect x="496.40" y="322.85" width="11.10" height="1.50" fill="#f4d030"/>
<rect x="496.40" y="325.35" width="11.10" height="1.50" fill="#f0ba3a"/>
<rect x="496.40" y="330.85" width="11.10" height="1.00" fill="#f4d030"/>
<rect x="496.40" y="336.75" width="11.10" height="0.80" fill="#f0ba3a"/>
<rect x="496.40" y="338.80" width="11.10" height="2.90" fill="#e48a2e"/>
<rect x="496.40" y="341.70" width="11.10" height="2.20" fill="#da6624"/>
<rect x="496.40" y="341.78" width="11.10" height="0.80" fill="#dc6a28"/>
<rect x="496.40" y="343.90" width="11.10" height="17.60" fill="#f6dc2e"/>
<rect x="496.40" y="346.86" width="11.10" height="0.80" fill="#f2d02c"/>
<rect x="496.40" y="348.66" width="11.10" height="0.80" fill="#f2d02c"/>
<rect x="496.40" y="352.76" width="11.10" height="1.20" fill="#f2d02c"/>
<rect x="496.40" y="358.46" width="11.10" height="1.00" fill="#f8e43a"/>
<rect x="434.00" y="53.20" width="36.80" height="2.90" fill="#c8201e"/>
<rect x="470.80" y="53.20" width="37.40" height="2.90" fill="#2a3596"/>
<text x="453.0" y="41.2" font-size="7.7" text-anchor="middle" font-weight="bold" textLength="21.6" lengthAdjust="spacingAndGlyphs" fill="#a8283c">Hyper</text>
<text x="453.0" y="51.0" font-size="7.7" text-anchor="middle" font-weight="bold" textLength="29.6" lengthAdjust="spacingAndGlyphs" fill="#a8283c">reactive</text>
<text x="489.6" y="41.2" font-size="7.7" text-anchor="middle" font-weight="bold" textLength="18.8" lengthAdjust="spacingAndGlyphs" fill="#3a3c80">Hypo</text>
<text x="489.8" y="51.0" font-size="7.7" text-anchor="middle" font-weight="bold" textLength="30.2" lengthAdjust="spacingAndGlyphs" fill="#3a3c80">reactive</text>
<defs><linearGradient id="cs" x1="0" x2="1" y1="0" y2="0"><stop offset="0" stop-color="#34349e"/><stop offset="0.22" stop-color="#4848a8"/><stop offset="0.38" stop-color="#8c8c80"/><stop offset="0.5" stop-color="#e6dc30"/><stop offset="0.6" stop-color="#f4d020"/><stop offset="0.75" stop-color="#ec9428"/><stop offset="0.9" stop-color="#dc3024"/><stop offset="1" stop-color="#d82028"/></linearGradient></defs>
<rect x="438" y="365.6" width="65" height="6.6" fill="url(#cs)" stroke="#222" stroke-width="0.7"/>
<line x1="470.5" y1="370.5" x2="470.5" y2="373.5" stroke="#222" stroke-width="0.8"/>
<text x="438.8" y="380.8" font-size="6.3" text-anchor="middle" font-weight="bold" textLength="10.8" lengthAdjust="spacingAndGlyphs" fill="#000">-4.3</text>
<text x="470.2" y="380.8" font-size="6.3" text-anchor="middle" font-weight="bold" fill="#000">0</text>
<text x="502.3" y="380.8" font-size="6.3" text-anchor="middle" font-weight="bold" fill="#000">4.3</text>
<line x1="57" y1="345" x2="57" y2="442.6" stroke="#000" stroke-width="1.6"/>
<line x1="56.2" y1="441.8" x2="152.1" y2="441.8" stroke="#000" stroke-width="1.6"/>
<line x1="52.3" y1="429.9" x2="57" y2="429.9" stroke="#000" stroke-width="1.3"/>
<text x="47.8" y="433.7" font-size="11.1" text-anchor="end" fill="#000">0.2</text>
<line x1="52.3" y1="416.0" x2="57" y2="416.0" stroke="#000" stroke-width="1.3"/>
<text x="47.8" y="419.8" font-size="11.1" text-anchor="end" fill="#000">0.4</text>
<line x1="52.3" y1="402.09999999999997" x2="57" y2="402.09999999999997" stroke="#000" stroke-width="1.3"/>
<text x="47.8" y="405.9" font-size="11.1" text-anchor="end" fill="#000">0.6</text>
<line x1="52.3" y1="388.2" x2="57" y2="388.2" stroke="#000" stroke-width="1.3"/>
<text x="47.8" y="392.0" font-size="11.1" text-anchor="end" fill="#000">0.8</text>
<line x1="52.3" y1="374.29999999999995" x2="57" y2="374.29999999999995" stroke="#000" stroke-width="1.3"/>
<text x="47.8" y="378.09999999999997" font-size="11.1" text-anchor="end" fill="#000">1.0</text>
<line x1="52.3" y1="360.4" x2="57" y2="360.4" stroke="#000" stroke-width="1.3"/>
<text x="47.8" y="364.2" font-size="11.1" text-anchor="end" fill="#000">1.2</text>
<line x1="68.8" y1="441.8" x2="68.8" y2="446" stroke="#000" stroke-width="1.3"/>
<text x="68.8" y="461.2" font-size="10.6" text-anchor="middle" fill="#000">-4</text>
<line x1="86.3" y1="441.8" x2="86.3" y2="446" stroke="#000" stroke-width="1.3"/>
<text x="86.3" y="461.2" font-size="10.6" text-anchor="middle" fill="#000">-2</text>
<line x1="104.4" y1="441.8" x2="104.4" y2="446" stroke="#000" stroke-width="1.3"/>
<text x="104.4" y="461.2" font-size="10.6" text-anchor="middle" fill="#000">0</text>
<line x1="121.9" y1="441.8" x2="121.9" y2="446" stroke="#000" stroke-width="1.3"/>
<text x="121.9" y="461.2" font-size="10.6" text-anchor="middle" fill="#000">2</text>
<line x1="139.6" y1="441.8" x2="139.6" y2="446" stroke="#000" stroke-width="1.3"/>
<text x="139.6" y="461.2" font-size="10.6" text-anchor="middle" fill="#000">4</text>
<text x="103.9" y="478.8" font-size="12.6" text-anchor="middle" textLength="93.7" lengthAdjust="spacingAndGlyphs" fill="#000">log2(foldchange)</text>
<text x="23.4" y="393.9" font-size="15.3" text-anchor="middle" textLength="136.6" lengthAdjust="spacingAndGlyphs" transform="rotate(-90 23.4 393.9)" fill="#000">-log10(correctedPvalue)</text>
<polygon fill="#ab0230" points="89.2,380.3 101.8,380.3 101.8,439.8 97.5,439.8 96.5,434 95.5,430 94.5,426 92.5,421.5 90.5,417.5 87,414.5 84,412 80.8,410 80.6,400 82.2,396.5 84.5,393.8 95.4,393.8 95.4,384.6 89.2,384.6"/>
<polygon fill="#ab0230" points="107.8,394.4 112.5,394.4 116,396.5 116.8,402 117.2,409 115.8,414 114.6,418 114.4,426 115.2,431 114,435 113,439.6 109,439.6 108.2,430 107.9,415"/>
<rect x="69.85" y="347.15" width="2.30" height="2.30" fill="#ab0230"/>
<rect x="82.95" y="347.15" width="2.30" height="2.30" fill="#ab0230"/>
<rect x="95.15" y="347.15" width="2.30" height="2.30" fill="#ab0230"/>
<rect x="93.65" y="374.85" width="2.30" height="2.30" fill="#ab0230"/>
<rect x="97.75" y="374.85" width="2.30" height="2.30" fill="#ab0230"/>
<rect x="66.85" y="381.45" width="2.30" height="2.30" fill="#ab0230"/>
<rect x="74.15" y="380.65" width="2.30" height="2.30" fill="#ab0230"/>
<rect x="76.25" y="380.65" width="2.30" height="2.30" fill="#ab0230"/>
<rect x="81.95" y="386.85" width="2.30" height="2.30" fill="#ab0230"/>
<rect x="84.85" y="385.85" width="2.30" height="2.30" fill="#ab0230"/>
<rect x="93.45" y="385.45" width="2.30" height="2.30" fill="#ab0230"/>
<rect x="70.35" y="390.45" width="2.30" height="2.30" fill="#ab0230"/>
<rect x="108.55" y="387.85" width="2.30" height="2.30" fill="#ab0230"/>
<rect x="117.95" y="394.05" width="2.30" height="2.30" fill="#ab0230"/>
<rect x="120.65" y="397.05" width="2.30" height="2.30" fill="#ab0230"/>
<rect x="127.15" y="394.05" width="2.30" height="2.30" fill="#ab0230"/>
<rect x="76.15" y="396.25" width="2.30" height="2.30" fill="#ab0230"/>
<rect x="72.55" y="412.55" width="2.30" height="2.30" fill="#ab0230"/>
<rect x="77.65" y="413.25" width="2.30" height="2.30" fill="#ab0230"/>
<rect x="116.55" y="403.55" width="2.30" height="2.30" fill="#ab0230"/>
<rect x="120.65" y="406.15" width="2.30" height="2.30" fill="#ab0230"/>
<rect x="118.55" y="409.15" width="2.30" height="2.30" fill="#ab0230"/>
<rect x="118.05" y="413.65" width="2.30" height="2.30" fill="#ab0230"/>
<rect x="83.35" y="388.35" width="2.30" height="2.30" fill="#ab0230"/>
<rect x="86.35" y="389.85" width="2.30" height="2.30" fill="#ab0230"/>
<rect x="89.85" y="387.35" width="2.30" height="2.30" fill="#ab0230"/>
<rect x="91.35" y="389.35" width="2.30" height="2.30" fill="#ab0230"/>
<rect x="81.35" y="390.35" width="2.30" height="2.30" fill="#ab0230"/>
<rect x="78.35" y="401.85" width="2.30" height="2.30" fill="#ab0230"/>
<rect x="78.65" y="405.35" width="2.30" height="2.30" fill="#ab0230"/>
<rect x="82.85" y="409.35" width="2.30" height="2.30" fill="#ab0230"/>
<rect x="79.35" y="410.35" width="2.30" height="2.30" fill="#ab0230"/>
<rect x="85.35" y="412.35" width="2.30" height="2.30" fill="#ab0230"/>
<rect x="94.05" y="432.65" width="2.30" height="2.30" fill="#ab0230"/>
<rect x="92.85" y="433.35" width="2.30" height="2.30" fill="#ab0230"/>
<rect x="96.35" y="436.35" width="2.30" height="2.30" fill="#ab0230"/>
<rect x="98.35" y="438.15" width="2.30" height="2.30" fill="#ab0230"/>
<rect x="109.35" y="435.35" width="2.30" height="2.30" fill="#ab0230"/>
<rect x="111.35" y="436.35" width="2.30" height="2.30" fill="#ab0230"/>
<rect x="114.05" y="433.35" width="2.30" height="2.30" fill="#ab0230"/>
<rect x="117.35" y="397.85" width="2.30" height="2.30" fill="#ab0230"/>
<rect x="118.85" y="400.85" width="2.30" height="2.30" fill="#ab0230"/>
<rect x="115.85" y="417.85" width="2.30" height="2.30" fill="#ab0230"/>
<rect x="115.05" y="426.85" width="2.30" height="2.30" fill="#ab0230"/>
<rect x="117.35" y="395.35" width="2.30" height="2.30" fill="#ab0230"/>
<rect x="115.65" y="410.85" width="2.30" height="2.30" fill="#ab0230"/>
<rect x="81.85" y="394.35" width="2.30" height="2.30" fill="#ab0230"/>
<rect x="80.35" y="396.85" width="2.30" height="2.30" fill="#ab0230"/>
<line x1="231.8" y1="322.6" x2="231.8" y2="444.4" stroke="#000" stroke-width="1.6"/>
<line x1="231" y1="443.6" x2="388.5" y2="443.6" stroke="#000" stroke-width="1.6"/>
<line x1="226.6" y1="443.5" x2="231.8" y2="443.5" stroke="#000" stroke-width="1.3"/>
<text x="220.6" y="447.6" font-size="11.5" text-anchor="end" fill="#000">0.0</text>
<line x1="226.6" y1="405.35" x2="231.8" y2="405.35" stroke="#000" stroke-width="1.3"/>
<text x="220.6" y="409.45000000000005" font-size="11.5" text-anchor="end" fill="#000">0.5</text>
<line x1="226.6" y1="367.2" x2="231.8" y2="367.2" stroke="#000" stroke-width="1.3"/>
<text x="220.6" y="371.3" font-size="11.5" text-anchor="end" fill="#000">1.0</text>
<line x1="226.6" y1="329.05" x2="231.8" y2="329.05" stroke="#000" stroke-width="1.3"/>
<text x="220.6" y="333.15000000000003" font-size="11.5" text-anchor="end" fill="#000">1.5</text>
<line x1="266.6" y1="443.6" x2="266.6" y2="448" stroke="#000" stroke-width="1.3"/>
<line x1="354.2" y1="443.6" x2="354.2" y2="448" stroke="#000" stroke-width="1.3"/>
<text x="190.6" y="384.2" font-size="14" text-anchor="middle" textLength="111" lengthAdjust="spacingAndGlyphs" transform="rotate(-90 190.6 384.2)" fill="#000">WDR1 mRNA levels</text>
<rect x="243.1" y="391.3" width="47.1" height="27.7" fill="#a8002c" stroke="#000" stroke-width="1.8"/>
<line x1="243.1" y1="415.2" x2="290.2" y2="415.2" stroke="#000" stroke-width="1.8"/>
<rect x="330.0" y="342.7" width="47.6" height="52.5" fill="#2e4b79" stroke="#000" stroke-width="1.8"/>
<line x1="330.0" y1="349.2" x2="377.6" y2="349.2" stroke="#000" stroke-width="1.8"/>
<text x="266.85" y="466.6" font-size="11.8" text-anchor="middle" textLength="73.4" lengthAdjust="spacingAndGlyphs" fill="#000">Hyperreactive</text>
<text x="353.6" y="466.6" font-size="11.8" text-anchor="middle" textLength="69.6" lengthAdjust="spacingAndGlyphs" fill="#000">Hyporeactive</text></svg></body></html>
